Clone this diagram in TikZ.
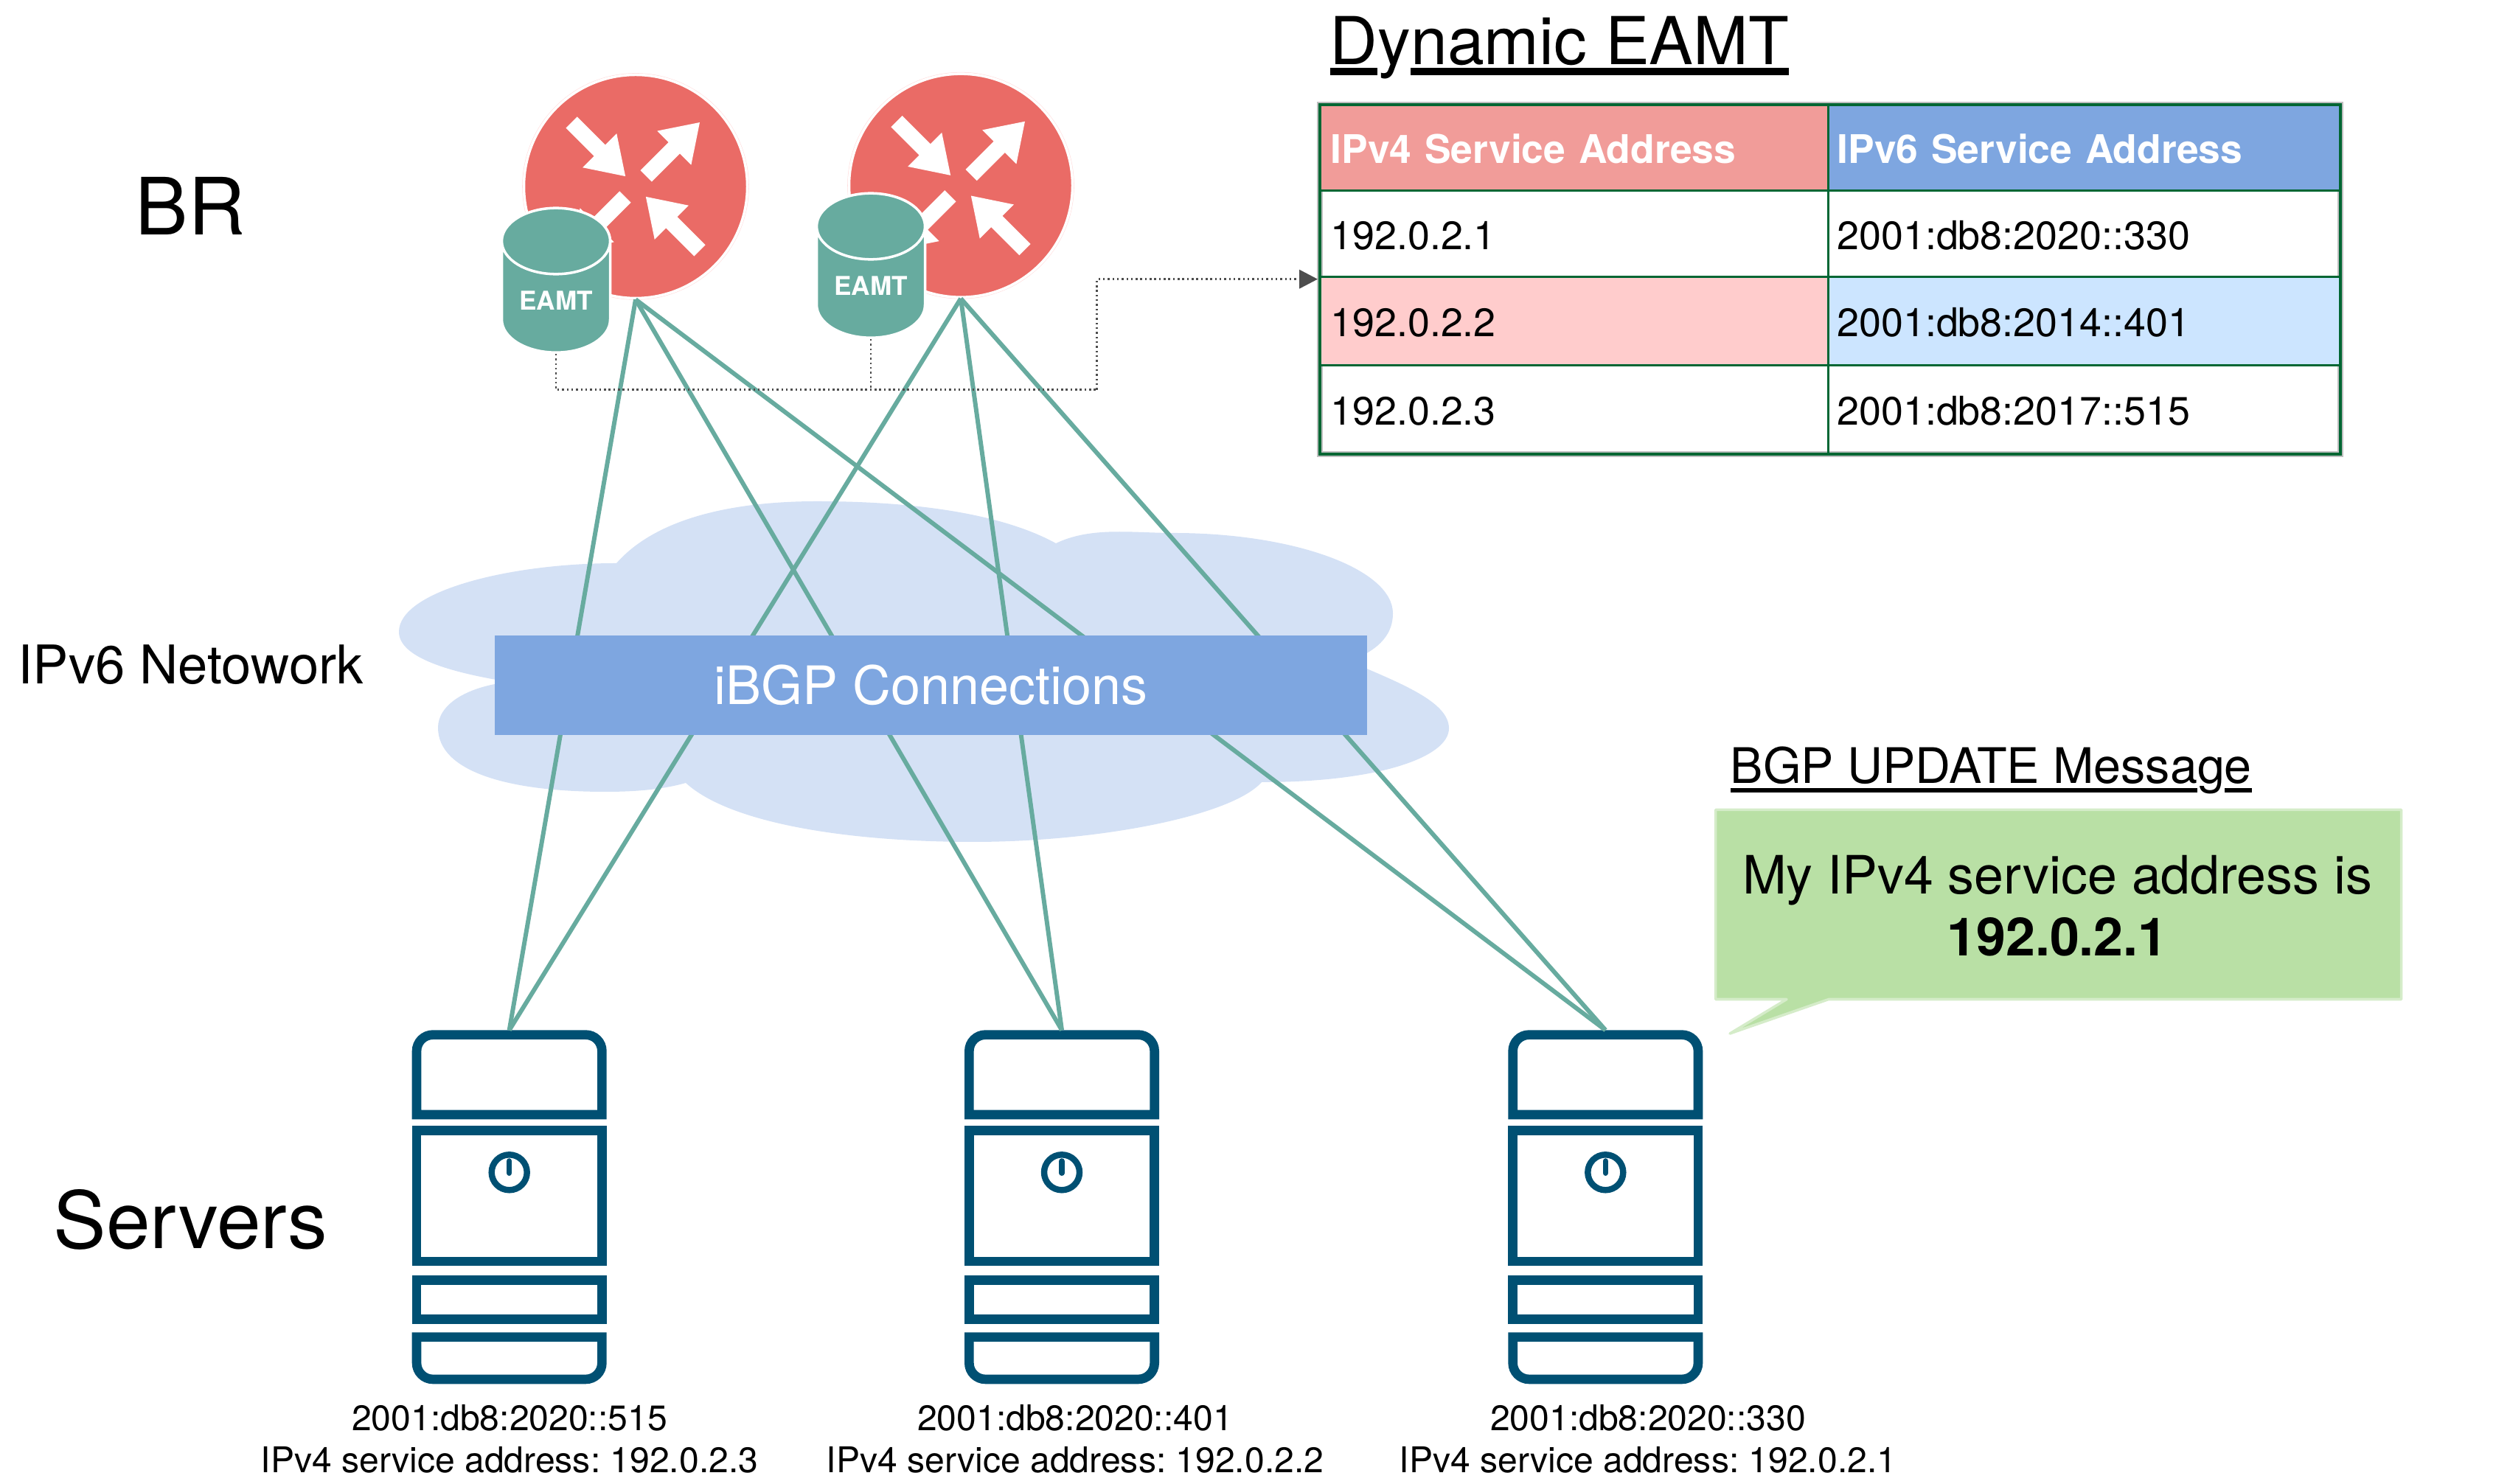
\documentclass[tikz,border=0pt]{standalone}
\usepackage{fontspec}
\setmainfont{TeX Gyre Heros}
\usepackage{xcolor}
\usetikzlibrary{arrows.meta}
\usetikzlibrary{shapes.geometric}
\definecolor{linkgreen}{HTML}{67AB9F}
\definecolor{routerred}{HTML}{EA6B66}
\definecolor{serverblue}{HTML}{005073}
\definecolor{cloudblue}{HTML}{D4E1F5}
\definecolor{boxblue}{HTML}{7EA6E0}
\definecolor{msggreen}{HTML}{B9E0A5}
\definecolor{tablegreen}{HTML}{006633}
\definecolor{headred}{HTML}{F19C99}
\definecolor{rowred}{HTML}{FFCCCC}
\definecolor{rowblue}{HTML}{CCE5FF}
\definecolor{dotgray}{HTML}{4D4D4D}
\frenchspacing
\newcommand{\fsize}[1]{\fontsize{#1}{1.2\dimexpr#1pt\relax}\selectfont}
\newcommand{\ulpart}[3]{\setbox0\hbox{#1}\rlap{\rule[-#3]{\wd0}{#2}}\box0}
\tikzset{
    link/.style={linkgreen, line width=1.7pt},
    router/.style={circle, minimum size=3.03cm, inner sep=0pt, fill=routerred, draw=white, line width=1pt,
        preaction={draw=red!15, line width=1.3pt}},
    eamtdb/.style={cylinder, shape border rotate=90, aspect=0.9, minimum width=1.47cm, minimum height=1.96cm,
        inner sep=0pt, cylinder uses custom fill, cylinder body fill=linkgreen, cylinder end fill=linkgreen,
        draw=white, line width=1pt, text=white, text height=9.5pt, text depth=0pt, font=\fsize{10}\bfseries},
    dotlink/.style={dotgray, line width=0.8pt, dash pattern=on 0.7pt off 1.1pt},
    cell/.style={rectangle, anchor=north west, draw=tablegreen, line width=0.85pt, outer sep=0pt, minimum height=1.17cm,
        text width=6.6cm, inner xsep=0.125cm, inner ysep=0pt, align=left, text height=0.42cm, text depth=0pt,
        font=\fsize{15.3}},
    rightcell/.style={cell, inner xsep=0.09cm, text width=6.7cm, minimum width=6.95cm},
    headcell/.style={text=white, font=\fsize{15.2}\bfseries},
    addr/.style={align=center, font=\fontsize{13.68}{16.2}\selectfont},
    routerarrows/.pic={
        \fill[white, rotate=45] (0.20,-0.108) -- (0.74,-0.108) -- (0.74,-0.326) -- (1.23,0) -- (0.74,0.326) -- (0.74,0.108) -- (0.20,0.108) -- cycle;
        \fill[white, rotate=225] (0.20,-0.108) -- (0.74,-0.108) -- (0.74,-0.326) -- (1.23,0) -- (0.74,0.326) -- (0.74,0.108) -- (0.20,0.108) -- cycle;
        \fill[white, rotate=135] (1.23,-0.108) -- (0.69,-0.108) -- (0.69,-0.326) -- (0.196,0) -- (0.69,0.326) -- (0.69,0.108) -- (1.23,0.108) -- cycle;
        \fill[white, rotate=315] (1.23,-0.108) -- (0.69,-0.108) -- (0.69,-0.326) -- (0.196,0) -- (0.69,0.326) -- (0.69,0.108) -- (1.23,0.108) -- cycle;
    },
    serverbox/.pic={
        \draw[serverblue, line width=3.6pt] (-1.2565,-1.1465) [rounded corners=0.22cm] -- (-1.2565,-0.0635) -- (1.2565,-0.0635) [sharp corners] -- (1.2565,-1.1465) -- cycle;
        \draw[serverblue, line width=3.6pt] (-1.2565,-1.3635) rectangle (1.2565,-3.1365);
        \draw[serverblue, line width=3.6pt] (-1.2565,-3.39) rectangle (1.2565,-3.92);
        \draw[serverblue, line width=3.6pt] (-1.2565,-4.1635) [rounded corners=0.22cm] -- (-1.2565,-4.7365) -- (1.2565,-4.7365) [sharp corners] -- (1.2565,-4.1635) -- cycle;
        \draw[serverblue, line width=2.4pt] (0,-1.93) circle (0.24);
        \draw[serverblue, line width=2.1pt, line cap=round] (0,-1.776) -- (0,-1.94);
    }
}

\begin{document}
\begin{tikzpicture}
    \useasboundingbox (0,0) rectangle (34.04,20.12);

    % cloud
    \fill[cloudblue] (8.36,12.48) .. controls (8.95,13.15) and (10.10,13.32) .. (11.08,13.32)
        .. controls (12.20,13.32) and (13.50,13.20) .. (14.32,12.75)
        .. controls (14.80,12.98) and (15.35,12.89) .. (15.92,12.89)
        .. controls (17.55,12.89) and (18.89,12.40) .. (18.89,11.80)
        .. controls (18.89,11.55) and (18.75,11.32) .. (18.30,11.15)
        .. controls (19.00,10.85) and (19.65,10.60) .. (19.65,10.24)
        .. controls (19.65,9.85) and (18.70,9.51) .. (17.11,9.51)
        .. controls (16.70,9.05) and (14.90,8.70) .. (13.20,8.70)
        .. controls (11.50,8.70) and (9.90,8.95) .. (9.30,9.50)
        .. controls (8.95,9.40) and (8.55,9.38) .. (8.21,9.38)
        .. controls (6.90,9.38) and (5.94,9.65) .. (5.94,10.25)
        .. controls (5.94,10.55) and (6.30,10.80) .. (6.90,10.87)
        .. controls (6.10,11.00) and (5.41,11.20) .. (5.41,11.55)
        .. controls (5.41,12.10) and (6.90,12.48) .. (8.36,12.48) -- cycle;

    \node[router] (R1) at (8.62,17.59) {};
    \node[router] (R2) at (13.03,17.603) {};
    \pic at (R1) {routerarrows};
    \pic at (R2) {routerarrows};

    \coordinate (S1) at (6.907,6.147);
    \coordinate (S2) at (14.40,6.147);
    \coordinate (S3) at (21.773,6.147);
    \pic at (S1) {serverbox};
    \pic at (S2) {serverbox};
    \pic at (S3) {serverbox};

    \draw[link] (R1.south) -- (S1);
    \draw[link] (R1.south) -- (S2);
    \draw[link] (R1.south) -- (S3);
    \draw[link] (R2.south) -- (S1);
    \draw[link] (R2.south) -- (S2);
    \draw[link] (R2.south) -- (S3);

    \node[rectangle, fill=boxblue, minimum width=11.83cm, minimum height=1.35cm, text=white, text height=0.56cm, text depth=0.04cm, font=\fsize{20.45}] (ibgp) at (12.625,10.825) {iBGP Connections};

    \node[eamtdb] (DB1) at (7.54,16.085) {EAMT};
    \node[eamtdb] (DB2) at (11.81,16.285) {EAMT};

    % table
    \draw[black!25, line width=2.2pt] (17.90,18.70) rectangle (31.74,13.96);
    \node[cell, headcell, fill=headred, minimum width=6.89cm] (c11) at (17.90,18.70) {IPv4 Service Address};
    \node[rightcell, headcell, fill=boxblue] (c12) at (24.79,18.70) {IPv6 Service Address};
    \node[cell, minimum width=6.89cm] (c21) at (17.90,17.53) {192.0.2.1};
    \node[rightcell] (c22) at (24.79,17.53) {2001:db8:2020::330};
    \node[cell, fill=rowred, minimum width=6.89cm, minimum height=1.197cm] (c31) at (17.90,16.36) {192.0.2.2};
    \node[rightcell, fill=rowblue, minimum height=1.197cm] (c32) at (24.79,16.36) {2001:db8:2014::401};
    \node[cell, minimum width=6.89cm, minimum height=1.203cm] (c41) at (17.90,15.163) {192.0.2.3};
    \node[rightcell, minimum height=1.203cm] (c42) at (24.79,15.163) {2001:db8:2017::515};
    \draw[tablegreen, line width=1.1pt] (c11.north west) rectangle (c42.south east);

    \coordinate (bus) at (14.877,14.833);
    \coordinate (tablein) at (17.87,16.333);
    \draw[dotlink] (DB1.south) |- (bus);
    \draw[dotlink] (DB2.south) -- (DB2.south |- bus);
    \draw[dotlink, -{Triangle[length=7.1pt,width=7.2pt]}] (bus) |- (tablein);

    \node[anchor=base west, inner sep=0pt, font=\fsize{25.5}] (eamttitle) at (18.03,19.245) {\ulpart{D}{2.7pt}{4.1pt}y\ulpart{namic EAMT}{2.7pt}{4.1pt}};

    \node[anchor=base west, inner sep=0pt, font=\fsize{30.5}] (brlabel) at (1.83,16.93) {BR};
    \node[anchor=base west, inner sep=0pt, font=\fsize{30.5}] (serverlabel) at (0.72,3.19) {Servers};
    \node[anchor=base west, inner sep=0pt, font=\fsize{20.6}] (netlabel) at (0.24,10.84) {IPv6 Netowork};

    % BGP message
    \node[anchor=base west, inner sep=0pt, font=\fsize{18.9}] (msgtitle) at (23.46,9.49) {\ulpart{BGP UPDATE Messa}{1.6pt}{3.4pt}g\ulpart{e}{1.6pt}{3.4pt}};
    \draw[fill=msggreen, draw=msggreen!60!white, line width=1pt, line join=round] (23.265,9.135) -- (32.565,9.135) -- (32.565,6.565) -- (24.80,6.565) -- (23.46,6.10) -- (24.23,6.565) -- (23.265,6.565) -- cycle;
    \node[align=center, font=\fontsize{20.4}{23.9}\selectfont] (msgtext) at (27.90,7.83) {My IPv4 service address is\\\textbf{192.0.2.1}};

    \node[addr] (A1) at (6.91,0.60) {2001:db8:2020::515\\IPv4 service address: 192.0.2.3};
    \node[addr] (A2) at (14.58,0.60) {2001:db8:2020::401\\IPv4 service address: 192.0.2.2};
    \node[addr] (A3) at (22.35,0.60) {2001:db8:2020::330\\IPv4 service address: 192.0.2.1};
\end{tikzpicture}
\end{document}
